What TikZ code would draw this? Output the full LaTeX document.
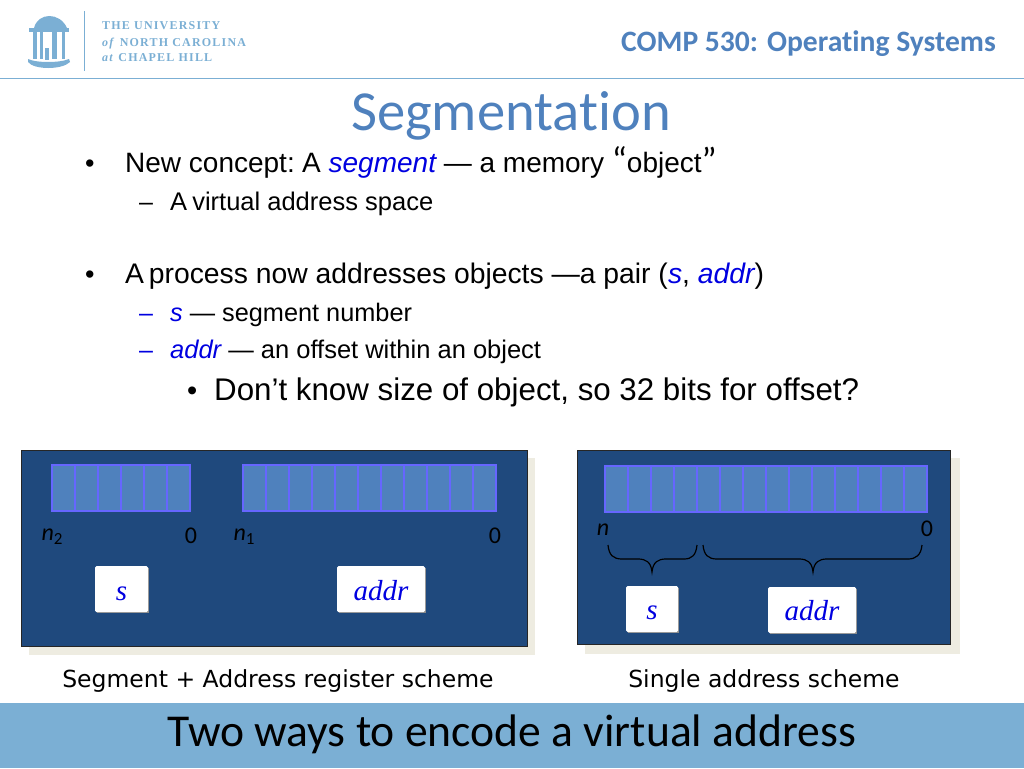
\documentclass[tikz,border=0pt]{standalone}
\usepackage{fontspec}
\usepackage{xcolor}
\setmainfont{Liberation Sans}
\newfontfamily\calibrifont[Ligatures=NoCommon]{Carlito}
\newfontfamily\timesfont{Liberation Serif}
\newfontfamily\logofont[LetterSpace=10]{Liberation Serif}
\newfontfamily\captionfont{DejaVu Sans}
\definecolor{logoblue}{HTML}{7BAFD4}
\definecolor{titleblue}{HTML}{4F81BD}
\definecolor{panelblue}{HTML}{1F497D}
\definecolor{cellblue}{HTML}{4F81BD}
\definecolor{celledge}{HTML}{6666FF}
\definecolor{shadowgray}{HTML}{EEECE1}
\definecolor{wordblue}{HTML}{0000E0}
\newcommand{\px}[1]{\fontsize{#1}{#1}\selectfont}
\tikzset{
  bodytext/.style={anchor=base west, inner sep=0pt},
  panel/.style={fill=panelblue, draw=black!85, line width=1pt},
  panelshadow/.style={fill=shadowgray},
  fieldbox/.style={fill=white, minimum height=46pt, inner sep=0pt, rounded corners=1.5pt,
    font=\timesfont\itshape\px{29}, text=wordblue, text height=22pt, text depth=0pt},
  fieldshadow/.style={fill=black!45},
  fieldlabel/.style={inner sep=0pt, font=\calibrifont\px{24}, text=black},
  cell/.style={fill=cellblue},
  celledgeline/.style={draw=celledge, line width=2.8pt},
  bracemark/.style={draw=black, line width=1.2pt},
  logotext/.style={anchor=base west, inner sep=0pt, text=logoblue, font=\logofont\bfseries\px{12}},
  captiontext/.style={inner sep=0pt, font=\captionfont\px{23.5}},
}
\begin{document}
\begin{tikzpicture}[x=1pt,y=-1pt]
    \useasboundingbox (0,0) rectangle (1024,768);

    % Logo
    \fill[logoblue] (34,28) .. controls (38,12) and (60,12) .. (67,28) -- cycle;
    \fill[logoblue] (29,28) rectangle (69,32);
    \foreach \x/\w in {33/4,40/3,52/5,62/3} {
        \fill[logoblue] (\x,32) rectangle +(\w,27);
    }
    \fill[logoblue] (45,48) rectangle (49,60);
    \fill[logoblue] (28,62) .. controls (34,70) and (62,70) .. (70,62) -- (69,59) .. controls (60,63) and (36,63) .. (28,59) -- cycle;
    \draw[logoblue, line width=0.8pt] (84,11) -- (84,71);
    \node[logotext] (logoa) at (102,30) {THE UNIVERSITY};
    \node[logotext] (logob) at (102,46) {\textit{of} NORTH CAROLINA};
    \node[logotext] (logoc) at (102,62) {\textit{at} CHAPEL HILL};
    \draw[logoblue, line width=1pt] (0,78) -- (1024,78);

    % Heading
    \node[anchor=base east, inner sep=0pt, text=titleblue, font=\calibrifont\bfseries\px{29.6}] (course) at (996,52) {COMP 530: Operating Systems};
    \node[inner sep=0pt, anchor=base, text=titleblue, font=\calibrifont\px{56.6}] (title) at (511,130) {Segmentation};

    % Bullets
    \node[bodytext, font=\px{27}] (dota) at (85,172) {•};
    \node[bodytext, font=\px{28}] (linea) at (125,172) {New concept: \hspace{-3pt}A {\itshape\color{wordblue}segment} — a memory {\calibrifont\px{36}“}object{\calibrifont\px{36}”}};
    \node[bodytext, font=\px{25}] (dasha) at (139,210) {–};
    \node[bodytext, font=\px{25.5}] (lineb) at (170,210) {A\hspace{-2pt} virtual address space};
    \node[bodytext, font=\px{27}] (dotb) at (85,283) {•};
    \node[bodytext, font=\px{28.3}] (linec) at (125,283) {A\hspace{-3pt} process now addresses objects —a pair ({\itshape\color{wordblue}s}, {\itshape\color{wordblue}addr})};
    \node[bodytext, font=\px{25}, text=wordblue] (dashb) at (139,321) {–};
    \node[bodytext, font=\px{25.3}] (lined) at (170,321) {{\itshape\color{wordblue}s} — segment number};
    \node[bodytext, font=\px{25}, text=wordblue] (dashc) at (139,358) {–};
    \node[bodytext, font=\px{25.5}] (linee) at (170,358) {{\itshape\color{wordblue}addr} — an offset within an object};
    \node[bodytext, font=\px{29}] (dotc) at (187,400) {•};
    \node[bodytext, font=\px{31.3}] (linef) at (214,400) {Don’t know size of object, so 32 bits for offset?};

    % Left panel
    \fill[panelshadow] (29,458) rectangle (535,655);
    \draw[panel] (21,450) rectangle (527,646);
    \fill[cell] (52,465) rectangle (190,511);
    \draw[celledgeline] (52,465) rectangle (190,511);
    \foreach \i in {1,...,5} {
        \draw[celledgeline] ({52+\i*23},465) -- ({52+\i*23},511);
    }
    \fill[cell] (243,465) rectangle (496,511);
    \draw[celledgeline] (243,465) rectangle (496,511);
    \foreach \i in {1,...,10} {
        \draw[celledgeline] ({243+\i*23},465) -- ({243+\i*23},511);
    }
    \node[fieldlabel] (ntwo) at (52,537) {\textit{n}\raisebox{-4pt}{\px{17}2}};
    \node[fieldlabel] (zeroa) at (191,536) {0};
    \node[fieldlabel] (none) at (244,537) {\textit{n}\raisebox{-4pt}{\px{17}1}};
    \node[fieldlabel] (zerob) at (495,536) {0};
    \fill[fieldshadow] (97,568) rectangle (149,613);
    \node[fieldbox, minimum width=53pt] (sa) at (121.5,589) {s};
    \fill[fieldshadow] (339,568) rectangle (426,613);
    \node[fieldbox, minimum width=88pt] (addra) at (381,589) {addr};

    % Right panel
    \fill[panelshadow] (585,458) rectangle (960,654);
    \draw[panel] (577,450) rectangle (950,644);
    \fill[cell] (605,466) rectangle (927,512);
    \draw[celledgeline] (605,466) rectangle (927,512);
    \foreach \i in {1,...,13} {
        \draw[celledgeline] ({605+\i*23},466) -- ({605+\i*23},512);
    }
    \node[fieldlabel] (nn) at (603,530) {\textit{n}};
    \node[fieldlabel] (zeroc) at (927,529) {0};

    % Braces
    \draw[bracemark] (608,545) .. controls (609,555) and (613,559) .. (622,559) -- (638,559) .. controls (646,559) and (651,562) .. (652,572) .. controls (653,562) and (658,559) .. (666,559) -- (684,559) .. controls (692,559) and (696,555) .. (697,545);
    \draw[bracemark] (703,545) .. controls (704,555) and (708,559) .. (717,559) -- (799,559) .. controls (807,559) and (812,562) .. (813,572) .. controls (814,562) and (819,559) .. (827,559) -- (908,559) .. controls (916,559) and (921,555) .. (922,545);

    \fill[fieldshadow] (628,588) rectangle (679,633);
    \node[fieldbox, minimum width=52pt, text height=20pt] (sb) at (652,609) {s};
    \fill[fieldshadow] (770,589) rectangle (857,634);
    \node[fieldbox, minimum width=88pt, text height=20pt] (addrb) at (812,610) {addr};

    % Captions
    \node[captiontext] (capa) at (278,681) {Segment + Address register scheme};
    \node[captiontext] (capb) at (764,681) {Single address scheme};

    % Bottom band
    \fill[logoblue] (0,703) rectangle (1024,768);
    \node[inner sep=0pt, anchor=base, font=\calibrifont\px{45.6}] (band) at (512,746) {Two ways to encode a virtual address};
\end{tikzpicture}
\end{document}
